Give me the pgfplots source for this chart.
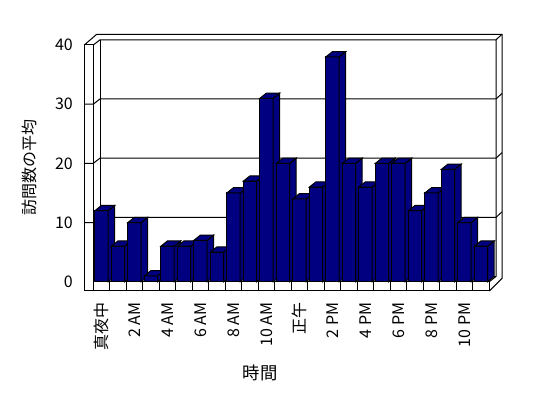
\documentclass[border=0pt]{standalone}
\usepackage{pgfplots}
\pgfplotsset{compat=1.18}
\usepackage{fontspec}
\setmainfont{Noto Sans CJK JP}
\definecolor{barblue}{RGB}{0,0,128}

% 3D column drawn at the data point (top of the bar), height taken from the data value
\pgfdeclareplotmark{bar3d}{%
  \pgfmathsetlengthmacro\hh{\barh*4.4375pt}%
  \pgfpathrectanglecorners{\pgfpoint{-4.99pt}{-\hh}}{\pgfpoint{4.99pt}{0pt}}%
  \pgfusepathqfillstroke
  \pgfpathmoveto{\pgfpoint{4.99pt}{-\hh}}%
  \pgfpathlineto{\pgfpoint{9.865pt}{3.9pt-\hh}}%
  \pgfpathlineto{\pgfpoint{9.865pt}{3.9pt}}%
  \pgfpathlineto{\pgfpoint{4.99pt}{0pt}}%
  \pgfpathclose
  \pgfusepathqfillstroke
  \pgfpathmoveto{\pgfpoint{-4.99pt}{0pt}}%
  \pgfpathlineto{\pgfpoint{4.99pt}{0pt}}%
  \pgfpathlineto{\pgfpoint{9.865pt}{3.9pt}}%
  \pgfpathlineto{\pgfpoint{-0.115pt}{3.9pt}}%
  \pgfpathclose
  \pgfusepathqfillstroke
}

\begin{document}
\begin{tikzpicture}
\begin{scope}[x=0.75pt,y=-0.75pt,shift={(0pt,298.5pt)}]
  \useasboundingbox (0,0) rectangle (548,398);
  \begin{scope}[line width=0.75pt, line join=miter]
    % left wall front face + floor front face
    \draw[fill=white] (84.3,45) -- (93.3,45) -- (93.3,281.7) -- (489.3,281.7) -- (489.3,291) -- (84.3,291) -- cycle;
    % outer frame
    \draw (84.3,45) -- (96.7,34.3) -- (502,34.3) -- (502,278.3) -- (489.3,291);
    % inner frame
    \draw (93.3,45) -- (100,39.8) -- (496,39.8) -- (496,276.5) -- (489.3,281.7);
    \draw (100,39.8) -- (100,276.5) -- (496,276.5);
    \draw (93.3,281.7) -- (100,276.5);
    \draw (496,39.8) -- (502,34.3);
    % gridlines
    \foreach \k in {1,2,3} {
      \draw (84.3,{281.7-59.175*\k}) -- (93.3,{281.7-59.175*\k}) -- (100,{276.5-59.175*\k}) -- (496,{276.5-59.175*\k}) -- (502,{271-59.175*\k});
    }
    % floor ticks
    \foreach \j in {0,...,24} {
      \draw ({93.3+16.5*\j},281.7) -- ({93.3+16.5*\j},291);
    }
  \end{scope}
  \node[rotate=90, font=\fontsize{12}{14}\selectfont] at (29.5,168) {訪問数の平均};
  \node[font=\fontsize{13}{15}\selectfont] at (260,373) {時間};
\end{scope}

\begin{axis}[
  at={(69.975pt,87.225pt)}, anchor=south west,
  scale only axis, width=297pt, height=177.5pt,
  xmin=-0.5, xmax=23.5, ymin=0, ymax=40,
  clip=false,
  axis line style={draw=none},
  major tick length=0pt, tick style={draw=none},
  ytick={0,10,20,30,40},
  xtick={0,2,4,6,8,10,12,14,16,18,20,22},
  xticklabels={真夜中,2 AM,4 AM,6 AM,8 AM,10 AM,正午,2 PM,4 PM,6 PM,8 PM,10 PM},
  yticklabel style={font=\fontsize{12}{14}\selectfont, anchor=east, inner sep=0pt},
  yticklabel shift=15.2pt,
  xticklabel style={font=\fontsize{12}{14}\selectfont, rotate=90, anchor=east, inner sep=0pt},
  xticklabel shift=15.6pt,
  /pgf/number format/assume math mode=true,
]
\addplot[only marks, scatter, point meta=y,
  mark=bar3d, line width=0.75pt,
  scatter/use mapped color={draw=black, fill=barblue},
  visualization depends on={rawy \as \barh}]
coordinates {
(0,12) (1,6) (2,10) (3,1) (4,6) (5,6) (6,7) (7,5)
(8,15) (9,17) (10,31) (11,20) (12,14) (13,16) (14,38) (15,20)
(16,16) (17,20) (18,20) (19,12) (20,15) (21,19) (22,10) (23,6)
};
\end{axis}
\end{tikzpicture}
\end{document}
